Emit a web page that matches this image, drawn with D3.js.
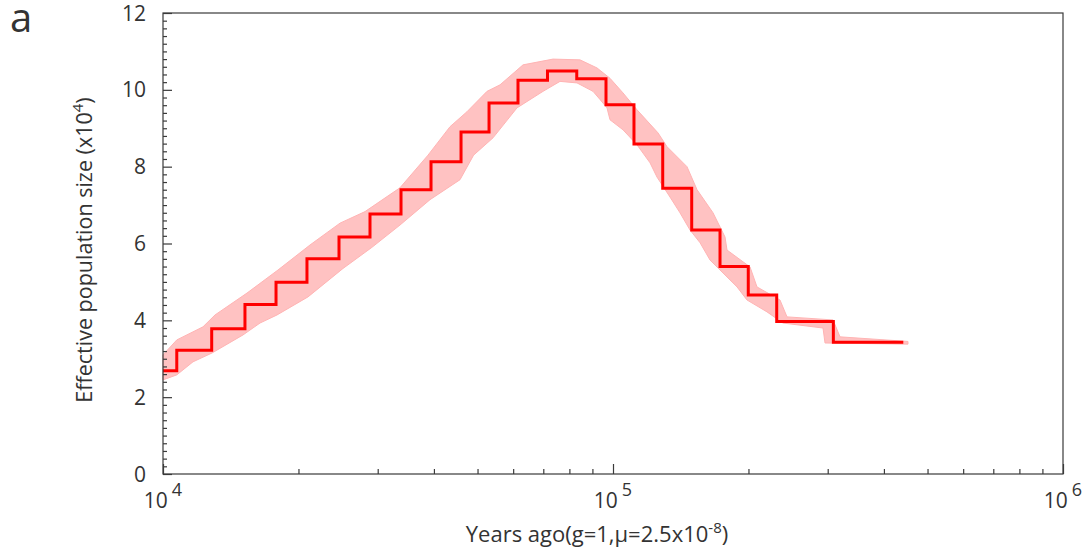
<!DOCTYPE html>
<html>
<head>
<meta charset="utf-8">
<script src="https://cdn.jsdelivr.net/npm/d3@7"></script>
<style>
  body { margin: 0; background: #fff; }
  text { font-family: 'Open Sans', 'Noto Sans', sans-serif; fill: #333; }
</style>
</head>
<body>
<svg width="1088" height="555"></svg>
<script>
// main PSMC step curve: change points (years) and Ne (x10^4) for each step
const stepYears = [10000, 10730, 12830, 15210, 17830, 20890, 24610, 28840, 33800, 39410, 45950,
  53030, 61500, 71520, 83070, 96480, 111330, 128970, 149590, 172900, 199800, 231100, 308800, 441700]
const stepNe = [2.69, 3.22, 3.78, 4.41, 4.99, 5.6, 6.17, 6.77, 7.4, 8.13, 8.9,
  9.66, 10.25, 10.49, 10.29, 9.61, 8.59, 7.44, 6.35, 5.4, 4.66, 3.97, 3.43]

// bootstrap band, upper and lower edge [years, Ne]
const bandUpper = [[10000, 3.1], [10730, 3.49], [12270, 3.83], [13050, 4.14], [15370, 4.71],
  [18010, 5.31], [21210, 5.96], [24740, 6.53], [28110, 6.83], [33620, 7.45], [38810, 8.3],
  [43430, 9.04], [47370, 9.43], [52480, 9.96], [56100, 10.13], [63100, 10.65], [73560, 10.8],
  [84450, 10.78], [92140, 10.57], [98480, 10.3], [105240, 9.92], [113060, 9.48], [125890, 8.88],
  [131830, 8.52], [146010, 8.0], [153720, 7.4], [166810, 6.8], [177380, 6.17], [179200, 5.83],
  [201600, 5.39], [208900, 4.87], [235000, 4.53], [243600, 4.09], [308300, 4.01], [319500, 3.57],
  [452400, 3.45]]
const bandLower = [[10000, 2.45], [10730, 2.58], [11660, 2.92], [12850, 3.15], [15060, 3.62],
  [16430, 3.93], [17920, 4.14], [21000, 4.61], [25120, 5.35], [29130, 5.9], [33620, 6.48],
  [39200, 7.14], [45710, 7.66], [49000, 8.3], [54120, 8.75], [61180, 9.53], [69900, 9.96],
  [76250, 10.22], [83180, 10.18], [90290, 9.96], [93560, 9.75], [96980, 9.53], [98480, 9.22],
  [105240, 8.96], [113060, 8.57], [120870, 8.1], [125240, 7.73], [133860, 7.21], [140880, 6.8],
  [148310, 6.35], [156110, 6.02], [164290, 5.57], [172900, 5.31], [188650, 4.87], [198500, 4.53],
  [219900, 4.22], [238600, 3.93], [292900, 3.8], [295900, 3.41], [452400, 3.38]]

const yTicks = [0, 2, 4, 6, 8, 10, 12]
const xTicks = [1e4, 1e5, 1e6]
const xExponents = ['4', '5', '6']

const plot = {left: 163, right: 1063, top: 13, bottom: 474}

const svg = d3.select('svg')
const x = d3.scaleLog().domain([1e4, 1e6]).range([plot.left, plot.right])
const y = d3.scaleLinear().domain([0, 12]).range([plot.bottom, plot.top])

// band
const band = bandUpper.concat(bandLower.slice().reverse())
svg.append('path')
  .attr('d', d3.line().x(d => x(d[0])).y(d => y(d[1]))(band) + 'Z')
  .attr('fill', '#ffc2c2')
  .attr('stroke', '#ffb4b4')
  .attr('stroke-width', 1)

// main step line
const pts = stepNe.map((v, i) => [stepYears[i], v])
pts.push([stepYears[stepYears.length - 1], stepNe[stepNe.length - 1]])
svg.append('path')
  .attr('d', d3.line().x(d => x(d[0])).y(d => y(d[1])).curve(d3.curveStepAfter)(pts))
  .attr('fill', 'none')
  .attr('stroke', '#ff0000')
  .attr('stroke-width', 3)

// frame
svg.append('rect')
  .attr('x', plot.left).attr('y', plot.top)
  .attr('width', plot.right - plot.left).attr('height', plot.bottom - plot.top)
  .attr('fill', 'none')
  .attr('stroke', '#3a3a3a')
  .attr('stroke-width', 1.2)

// y ticks (inward)
const yMinor = d3.range(0, 12.001, 0.2).filter(v => Math.abs(v / 2 - Math.round(v / 2)) > 1e-6)
const yAxisMinor = svg.append('g').attr('transform', `translate(${plot.left},0)`)
  .call(d3.axisRight(y).tickValues(yMinor).tickSize(4).tickSizeOuter(0).tickFormat(''))
const yAxisMajor = svg.append('g').attr('transform', `translate(${plot.left},0)`)
  .call(d3.axisRight(y).tickValues(yTicks).tickSize(9).tickSizeOuter(0).tickFormat(''))
;[yAxisMinor, yAxisMajor].forEach(g => {
  g.select('.domain').remove()
  g.selectAll('line').attr('stroke', '#3a3a3a').attr('stroke-width', 1.2)
})

svg.append('g').selectAll('text')
  .data(yTicks)
  .join('text')
  .attr('x', 146)
  .attr('y', d => y(d))
  .attr('dy', '0.36em')
  .attr('text-anchor', 'end')
  .attr('font-size', 21)
  .text(d => d)

// x ticks (inward)
const xMinor = []
;[1e4, 1e5].forEach(b => { for (let k = 2; k <= 9; k++) xMinor.push(b * k) })
const xAxisMinor = svg.append('g').attr('transform', `translate(0,${plot.bottom})`)
  .call(d3.axisTop(x).tickValues(xMinor).tickSize(5).tickSizeOuter(0).tickFormat(''))
const xAxisMajor = svg.append('g').attr('transform', `translate(0,${plot.bottom})`)
  .call(d3.axisTop(x).tickValues(xTicks).tickSize(10).tickSizeOuter(0).tickFormat(''))
;[xAxisMinor, xAxisMajor].forEach(g => {
  g.select('.domain').remove()
  g.selectAll('line').attr('stroke', '#3a3a3a').attr('stroke-width', 1.2)
})

const xl = svg.append('g').selectAll('text')
  .data(xTicks)
  .join('text')
  .attr('x', d => x(d))
  .attr('y', 508)
  .attr('text-anchor', 'middle')
  .attr('font-size', 21)
xl.append('tspan').text('10')
xl.append('tspan').attr('dx', 4).attr('dy', -12).attr('font-size', 18).text((d, i) => xExponents[i])

// axis titles
const xt = svg.append('text')
  .attr('x', 597).attr('y', 542)
  .attr('text-anchor', 'middle')
  .attr('font-size', 22)
xt.append('tspan').text('Years ago(g=1,\u03bc=2.5x10')
xt.append('tspan').attr('dy', -9).attr('font-size', 15).text('-8')
xt.append('tspan').attr('dy', 9).text(')')

const yt = svg.append('text')
  .attr('transform', 'translate(92,250) rotate(-90)')
  .attr('text-anchor', 'middle')
  .attr('font-size', 21.5)
yt.append('tspan').text('Effective population size (x10')
yt.append('tspan').attr('dy', -9).attr('font-size', 15).text('4')
yt.append('tspan').attr('dy', 9).text(')')

svg.append('text')
  .attr('x', 10).attr('y', 32)
  .attr('font-size', 40)
  .text('a')
</script>
</body>
</html>
